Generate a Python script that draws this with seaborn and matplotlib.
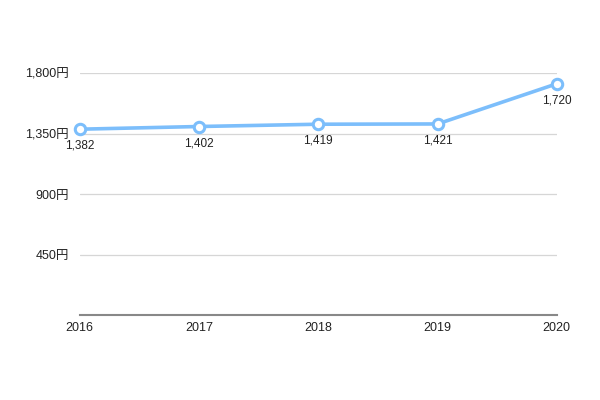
import matplotlib
matplotlib.use("Agg")
import matplotlib.pyplot as plt
import pandas as pd
import seaborn as sns
from matplotlib.ticker import FuncFormatter

years = [2016, 2017, 2018, 2019, 2020]
prices = [1382, 1402, 1419, 1421, 1720]
yticks = [450, 900, 1350, 1800]

df = pd.DataFrame({"year": years, "price": prices})

sns.set_style("white")
plt.rcParams['font.family'] = ['Liberation Sans', 'Noto Sans CJK JP', 'DejaVu Sans']

fig = plt.figure(figsize=(6, 4), dpi=100)
ax = fig.add_axes([0.133, 0.2125, 0.795, 0.605])

sns.lineplot(data=df, x="year", y="price", ax=ax, color="#7cbefb", linewidth=2.6,
             marker="o", markersize=7.5, markerfacecolor="white",
             markeredgecolor="#7cbefb", markeredgewidth=2.2, clip_on=False, zorder=5)

for x, y in zip(years, prices):
    ax.annotate(f"{y:,}", (x, y), xytext=(0, -12), textcoords="offset points",
                ha="center", va="center", fontsize=8.5, color="#222222")

ax.set_xlim(2016, 2020)
ax.set_ylim(0, 1800)
ax.set_xticks(years)
ax.set_yticks(yticks)
ax.yaxis.set_major_formatter(FuncFormatter(lambda v, p: f"{int(v):,}円"))
ax.grid(axis="y", color="#d6d6d6", linewidth=0.9)
ax.set_axisbelow(True)
for s in ["top", "right", "left"]:
    ax.spines[s].set_visible(False)
ax.spines["bottom"].set_color("#888888")
ax.spines["bottom"].set_linewidth(1.5)
ax.tick_params(axis="both", length=0, labelsize=9, colors="#222222")
ax.tick_params(axis="y", pad=8)
ax.tick_params(axis="x", pad=5)
ax.set_xlabel("")
ax.set_ylabel("")

fig.savefig("out.png", dpi=100)
